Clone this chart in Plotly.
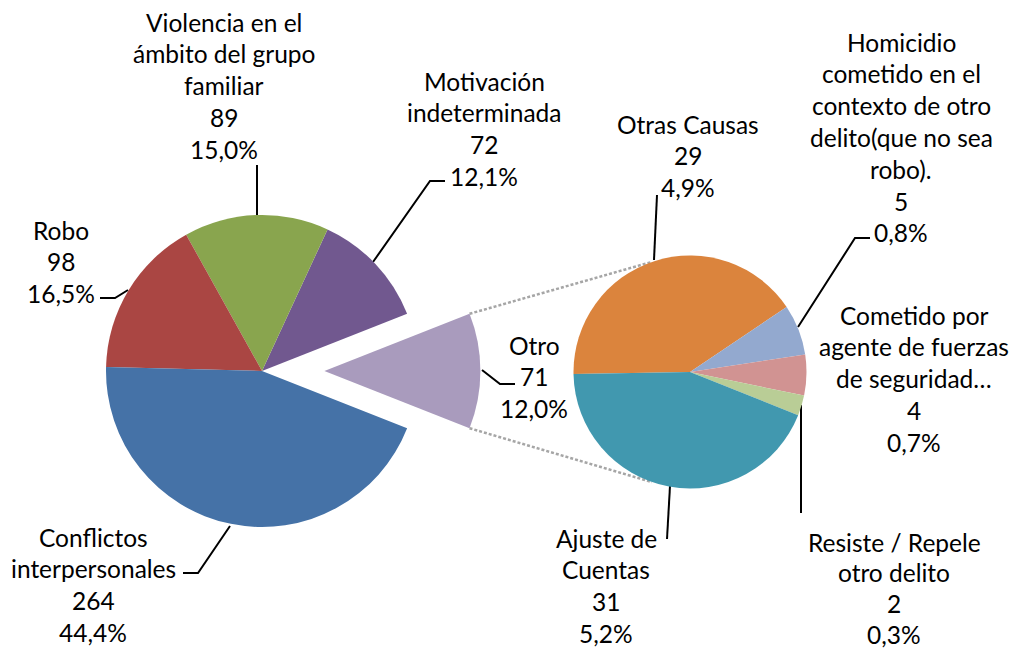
import math
import plotly.graph_objects as go

# ---------------- data ----------------
main_names = [["Otro"], ["Motivación", "indeterminada"],
              ["Violencia en el", "ámbito del grupo", "familiar"],
              ["Robo"], ["Conflictos", "interpersonales"]]
main_values = [71, 72, 89, 98, 264]
main_colors = ["#A99BBD", "#71588F", "#89A54E", "#AA4643", "#4572A7"]

sub_names = [["Otras Causas"],
             ["Homicidio", "cometido en el", "contexto de otro", "delito(que no sea", "robo)."],
             ["Cometido por", "agente de fuerzas", "de seguridad…"],
             ["Resiste / Repele", "otro delito"],
             ["Ajuste de", "Cuentas"]]
sub_values = [29, 5, 4, 2, 31]
sub_colors = ["#DB843D", "#93A9CF", "#D19392", "#B9CD96", "#4198AF"]

total = sum(main_values)

# ---------------- layout geometry (pixels) ----------------
W, H = 1019, 650
main_c, main_r, pull = (262, 371), 156, 0.40
sub_c, sub_r = (690, 372), 116.5
sub_start = 181  # math angle where first sub slice starts (clockwise)
conn_ang = 71    # connector angle offset from 180 on the sub pie

main_label_pos = [(534, 345), (484, 81), (224, 22), (61, 230), (93, 537)]
sub_label_pos = [(688, 124), (901, 42), (914, 315), (894, 542), (606, 538)]
sub_label_step = [31.8, 31.8, 31.8, 30.8, 31.8]
line_step = 31.8

main_leaders = [[(515, 384), (500, 384), (482, 370)],
                [(445, 181), (430, 181), (373, 262)],
                [(257, 165), (257, 216)],
                [(100, 298), (115, 298), (128, 290)],
                [(183, 573), (198, 573), (230, 526)]]
sub_leaders = [[(657, 195), (654, 260)],
               [(870, 238), (855, 238), (798, 327)],
               None,
               [(801, 513), (801, 405)],
               [(667, 539), (670, 486)]]

FONT = "Lato"
FSIZE = 24.5


def dom(c, half):
    return dict(x=[(c[0] - half) / W, (c[0] + half) / W],
                y=[1 - (c[1] + half) / H, 1 - (c[1] - half) / H])


fig = go.Figure()

# main pie: "Otro" centered on the right (plotly counterclockwise: first slice
# spans clockwise angles [rotation, rotation + slice])
otro_half = main_values[0] / total * 360 / 2
fig.add_trace(go.Pie(
    values=main_values, labels=[" ".join(n) for n in main_names],
    marker=dict(colors=main_colors, line=dict(width=0)),
    sort=False, direction="counterclockwise", rotation=90 - otro_half,
    pull=[pull, 0, 0, 0, 0], textinfo="none", hoverinfo="skip",
    domain=dom(main_c, main_r * (1 + pull)), showlegend=False))

fig.add_trace(go.Pie(
    values=sub_values, labels=[" ".join(n) for n in sub_names],
    marker=dict(colors=sub_colors, line=dict(width=0)),
    sort=False, direction="clockwise", rotation=90 - sub_start,
    textinfo="none", hoverinfo="skip",
    domain=dom(sub_c, sub_r), showlegend=False))

# connector dotted lines
ex_c = (main_c[0] + pull * main_r, main_c[1])
for s in (1, -1):
    a1 = math.radians(s * otro_half)
    p1 = (ex_c[0] + main_r * math.cos(a1), ex_c[1] - main_r * math.sin(a1))
    a2 = math.radians(180 - s * conn_ang)
    p2 = (sub_c[0] + sub_r * math.cos(a2), sub_c[1] - sub_r * math.sin(a2))
    fig.add_trace(go.Scatter(x=[p1[0], p2[0]], y=[p1[1], p2[1]], mode="lines",
                             line=dict(color="#A6A6A6", width=2.5, dash="3px,2px"),
                             hoverinfo="skip", showlegend=False))

# leader lines
for pts in main_leaders + sub_leaders:
    if not pts:
        continue
    fig.add_trace(go.Scatter(x=[p[0] for p in pts], y=[p[1] for p in pts], mode="lines",
                             line=dict(color="black", width=2),
                             hoverinfo="skip", showlegend=False))


def pct(v):
    return f"{v / total * 100:.1f}".replace(".", ",") + "%"


annotations = []
for names, vals, poss, steps in ((main_names, main_values, main_label_pos, [line_step] * 5),
                                 (sub_names, sub_values, sub_label_pos, sub_label_step)):
    for n, v, (x, y0), st in zip(names, vals, poss, steps):
        lines = n + [str(v), pct(v)]
        for i, t in enumerate(lines):
            annotations.append(dict(x=x, y=y0 + i * st, xref="x", yref="y",
                                    text=t, showarrow=False, xanchor="center",
                                    yanchor="middle", borderpad=0,
                                    font=dict(family=FONT, size=FSIZE, color="black")))

fig.update_layout(
    width=W, height=H, margin=dict(l=0, r=0, t=0, b=0),
    paper_bgcolor="white", plot_bgcolor="rgba(0,0,0,0)",
    xaxis=dict(range=[0, W], visible=False, fixedrange=True, domain=[0, 1]),
    yaxis=dict(range=[H, 0], visible=False, fixedrange=True, domain=[0, 1]),
    annotations=annotations, showlegend=False,
)

fig.write_html("out.html", config={"displayModeBar": False},
               post_script="document.body.style.margin='0px';")
